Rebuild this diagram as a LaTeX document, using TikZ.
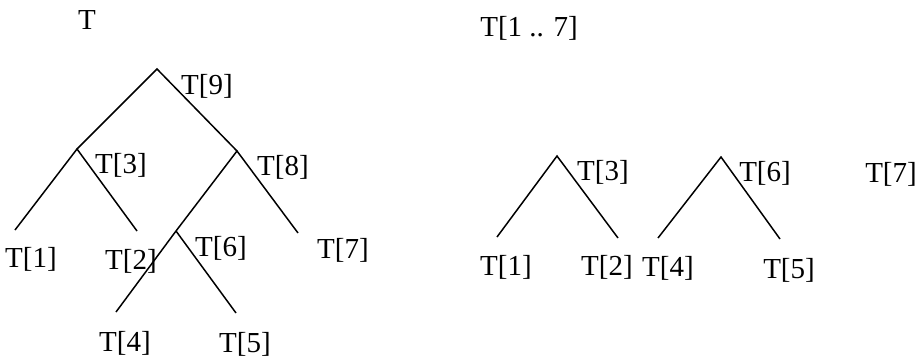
\documentclass[tikz,border=0pt]{standalone}
\usepackage{fontspec}
\setmainfont{Liberation Serif}
\begin{document}
\begin{tikzpicture}[x=0.5pt,y=-0.5pt,
  lbl/.style={inner sep=0pt,font=\fontsize{14.5}{16}\selectfont},
  edge/.style={line width=0.75pt}]
\useasboundingbox (0,0) rectangle (919,360);
% left tree
\node[lbl] (tT) at (87,20) {T};
\coordinate (r) at (157,69);
\coordinate (a) at (77,149);
\coordinate (b) at (237,151);
\coordinate (l1) at (15,230);
\coordinate (l2) at (137,231);
\coordinate (c) at (176,231);
\coordinate (l4) at (116,312);
\coordinate (l5) at (236,313);
\coordinate (l7) at (298,233);
\draw[edge] (a) -- (r) -- (b);
\draw[edge] (l1) -- (a) -- (l2);
\draw[edge] (l7) -- (b) -- (c) -- (l4);
\draw[edge] (c) -- (l5);
\node[lbl] (n9) at (207,86) {T[9]};
\node[lbl] (n3) at (121,165) {T[3]};
\node[lbl] (n8) at (283,167) {T[8]};
\node[lbl] (n1) at (31,259) {T[1]};
\node[lbl] (n2) at (131,261) {T[2]};
\node[lbl] (n6) at (221,248) {T[6]};
\node[lbl] (n7) at (343,250) {T[7]};
\node[lbl] (n4) at (125,343) {T[4]};
\node[lbl] (n5) at (245,344) {T[5]};
% right forest
\node[lbl] (tR) at (529,28) {T[1 .. 7]};
\coordinate (p) at (557,156);
\coordinate (p1) at (497,237);
\coordinate (p2) at (618,238);
\coordinate (q) at (721,157);
\coordinate (q1) at (658,238);
\coordinate (q2) at (780,239);
\draw[edge] (p1) -- (p) -- (p2);
\draw[edge] (q1) -- (q) -- (q2);
\node[lbl] (m3) at (603,172) {T[3]};
\node[lbl] (m6) at (765,173) {T[6]};
\node[lbl] (m7) at (891,174) {T[7]};
\node[lbl] (m1) at (506,267) {T[1]};
\node[lbl] (m2) at (607,267) {T[2]};
\node[lbl] (m4) at (668,268) {T[4]};
\node[lbl] (m5) at (789,270) {T[5]};
\end{tikzpicture}
\end{document}
